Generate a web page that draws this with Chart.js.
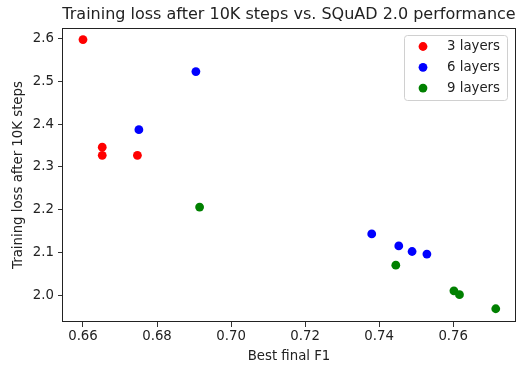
<!DOCTYPE html>
<html>
<head>
<meta charset="utf-8">
<script src="https://cdn.jsdelivr.net/npm/chart.js@4/dist/chart.umd.min.js"></script>
<style>
  body { margin: 0; background: #fff; }
  canvas { display: block; }
</style>
</head>
<body>
<canvas id="myChart" width="521" height="368"></canvas>
<script>
// values
const seriesNames = ["3 layers", "6 layers", "9 layers"];
const seriesColors = ["#ff0000", "#0000ff", "#008000"];

const layers3F1 = [0.660, 0.6652, 0.6652, 0.6747];
const layers3Loss = [2.598, 2.346, 2.327, 2.327];
const layers6F1 = [0.6905, 0.6751, 0.738, 0.7453, 0.7489, 0.7529];
const layers6Loss = [2.523, 2.387, 2.143, 2.115, 2.102, 2.096];
const layers9F1 = [0.6915, 0.7445, 0.7602, 0.7617, 0.7715];
const layers9Loss = [2.206, 2.070, 2.010, 2.001, 1.968];

const xTicks = [0.66, 0.68, 0.70, 0.72, 0.74, 0.76];
const yTicks = [2.0, 2.1, 2.2, 2.3, 2.4, 2.5, 2.6];

const titleText = "Training loss after 10K steps vs. SQuAD 2.0 performance";
const xTitle = "Best final F1";
const yTitle = "Training loss after 10K steps";

const FONT = "'DejaVu Sans', sans-serif";
const textColor = "#222";

function points(xs, ys) {
    let out = [];
    for (let i = 0; i < xs.length; i++) {
        out.push({ x: xs[i], y: ys[i] });
    }
    return out;
}

const allX = [layers3F1, layers6F1, layers9F1];
const allY = [layers3Loss, layers6Loss, layers9Loss];
const datasets = seriesNames.map(function (name, i) {
    return {
        label: name,
        data: points(allX[i], allY[i]),
        backgroundColor: seriesColors[i],
        borderWidth: 0,
        pointRadius: 4.4,
        pointHoverRadius: 4.4
    };
});

// frame, title and a matplotlib-like legend box
const decorations = {
    id: "decorations",
    afterDraw(chart) {
        const ctx = chart.ctx;
        const a = chart.chartArea;
        ctx.save();
        ctx.strokeStyle = "#222";
        ctx.lineWidth = 1;
        ctx.strokeRect(Math.round(a.left) - 0.5, Math.round(a.top) + 0.5,
            Math.round(a.right - a.left) + 1, Math.round(a.bottom - a.top) - 1);

        ctx.fillStyle = textColor;
        ctx.font = "16px " + FONT;
        ctx.textAlign = "center";
        ctx.textBaseline = "alphabetic";
        ctx.fillText(titleText, (a.left + a.right) / 2, 18.5);

        // legend
        const boxW = 103, boxH = 65;
        const bx = a.right - 8 - boxW, by = a.top + 7;
        ctx.beginPath();
        ctx.roundRect(bx + 0.5, by + 0.5, boxW, boxH, 3);
        ctx.fillStyle = "rgba(255,255,255,0.8)";
        ctx.fill();
        ctx.strokeStyle = "#d0d0d0";
        ctx.stroke();
        ctx.font = "13.3px " + FONT;
        ctx.textAlign = "left";
        ctx.textBaseline = "middle";
        chart.data.datasets.forEach(function (ds, i) {
            const cy = by + 11.5 + i * 20.8;
            ctx.beginPath();
            ctx.arc(bx + 19, cy, 4.4, 0, Math.PI * 2);
            ctx.fillStyle = ds.backgroundColor;
            ctx.fill();
            ctx.fillStyle = textColor;
            ctx.fillText(ds.label, bx + 43, cy);
        });
        ctx.restore();
    }
};

new Chart("myChart", {
    type: "scatter",
    data: { datasets: datasets },
    options: {
        responsive: false,
        animation: false,
        events: [],
        layout: { padding: { left: 0, right: 6, top: 28, bottom: 0 } },
        plugins: {
            legend: { display: false },
            title: { display: false },
            tooltip: { enabled: false }
        },
        scales: {
            x: {
                type: "linear",
                min: 0.6546,
                max: 0.7767,
                afterBuildTicks: function (scale) {
                    scale.ticks = xTicks.map(function (v) { return { value: v }; });
                },
                afterFit: function (scale) { scale.height = 46; },
                ticks: {
                    color: textColor,
                    font: { family: FONT, size: 13.3 },
                    padding: 2,
                    maxRotation: 0,
                    autoSkip: false,
                    callback: function (v) { return v.toFixed(2); }
                },
                grid: { drawOnChartArea: false, drawTicks: true, tickLength: 5, color: "#333" },
                border: { display: false },
                title: {
                    display: true,
                    text: xTitle,
                    color: textColor,
                    font: { family: FONT, size: 13.3, lineHeight: 1.2 },
                    padding: { top: 0, bottom: 3 }
                }
            },
            y: {
                type: "linear",
                min: 1.937,
                max: 2.625,
                afterBuildTicks: function (scale) {
                    scale.ticks = yTicks.map(function (v) { return { value: v }; });
                },
                afterFit: function (scale) { scale.width = 63; },
                ticks: {
                    color: textColor,
                    font: { family: FONT, size: 13.3 },
                    padding: 4,
                    autoSkip: false,
                    callback: function (v) { return v.toFixed(1); }
                },
                grid: { drawOnChartArea: false, drawTicks: true, tickLength: 5, color: "#333" },
                border: { display: false },
                title: {
                    display: true,
                    text: yTitle,
                    color: textColor,
                    font: { family: FONT, size: 13.3, lineHeight: 1.2 },
                    padding: { top: 11, bottom: 0 }
                }
            }
        }
    },
    plugins: [decorations]
});
</script>
</body>
</html>
